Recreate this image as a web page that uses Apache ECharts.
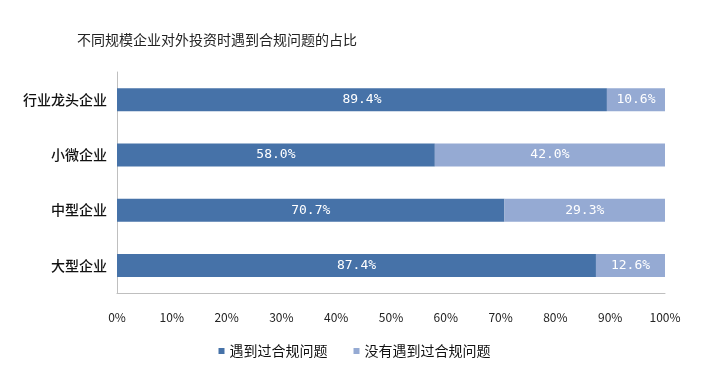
<!DOCTYPE html>
<html>
<head>
<meta charset="utf-8">
<script src="https://cdn.jsdelivr.net/npm/echarts@6/dist/echarts.min.js"></script>
<style>
  html, body { margin: 0; padding: 0; background: #fff; }
  #chart { width: 709px; height: 376px; }
</style>
</head>
<body>
<div id="chart"></div>
<script>
const categories = ['大型企业', '中型企业', '小微企业', '行业龙头企业']
const metIssues   = [87.4, 70.7, 58.0, 89.4]
const noIssues    = [12.6, 29.3, 42.0, 10.6]
const seriesNames = ['遇到过合规问题', '没有遇到过合规问题']

const chart = echarts.init(document.getElementById('chart'))

const labelStyle = {
  show: true,
  color: '#fff',
  fontSize: 13,
  fontFamily: 'DejaVu Sans Mono, monospace',
  formatter: p => p.value.toFixed(1) + '%',
}

chart.setOption({
  backgroundColor: '#fff',
  animation: false,
  title: {
    text: '不同规模企业对外投资时遇到合规问题的占比',
    left: 72, top: 28,
    textStyle: { color: '#222', fontSize: 14, fontWeight: 'normal', fontFamily: 'Noto Sans CJK SC' },
  },
  legend: {
    bottom: 13, left: 'center',
    itemWidth: 6, itemHeight: 6, itemGap: 26,
    icon: 'rect',
    textStyle: { color: '#111', fontSize: 14, fontFamily: 'Noto Sans CJK SC' },
    data: seriesNames,
  },
  grid: { left: 117, right: 44, top: 72, bottom: 83 },
  xAxis: {
    type: 'value', min: 0, max: 100, interval: 10,
    axisLabel: { formatter: '{value}%', color: '#222', fontSize: 12, margin: 18, fontFamily: 'Noto Sans CJK SC' },
    axisLine: { show: true, lineStyle: { color: '#bfbfbf' } },
    axisTick: { show: false },
    splitLine: { show: false },
  },
  yAxis: {
    type: 'category', data: categories,
    axisLabel: { color: '#111', fontSize: 14, fontWeight: 500, margin: 10, fontFamily: 'Noto Sans CJK SC' },
    axisLine: { show: true, lineStyle: { color: '#bfbfbf' } },
    axisTick: { show: false },
  },
  series: [
    {
      name: seriesNames[0], type: 'bar', stack: 'total', barWidth: 23,
      data: metIssues,
      itemStyle: { color: '#4672a8' },
      label: labelStyle,
    },
    {
      name: seriesNames[1], type: 'bar', stack: 'total', barWidth: 23,
      data: noIssues,
      itemStyle: { color: '#95aad3' },
      label: labelStyle,
    },
  ],
})
</script>
</body>
</html>
